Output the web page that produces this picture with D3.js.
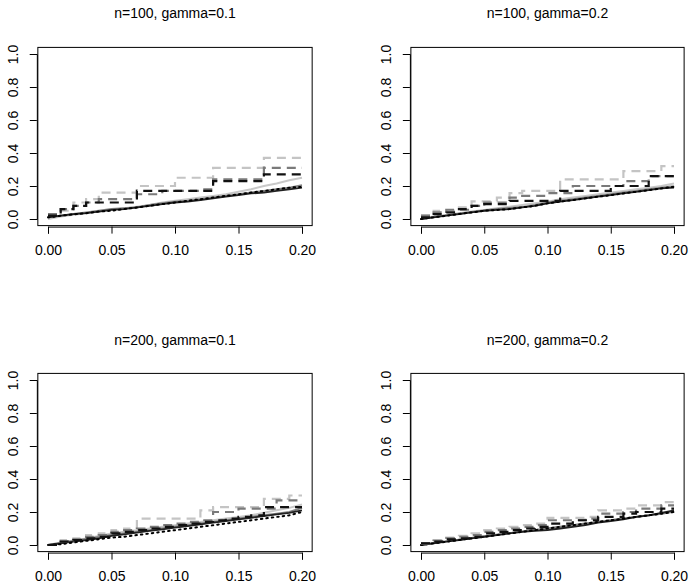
<!DOCTYPE html>
<html><head><meta charset="utf-8">
<script src="https://cdn.jsdelivr.net/npm/d3@7"></script>
<style>body{margin:0;background:#fff}svg{display:block}text{font-family:"Liberation Sans",Arial,sans-serif}</style>
</head><body><svg id="c" width="690" height="587"></svg>
<script>
const xs = [0,0.01,0.02,0.03,0.04,0.05,0.06,0.07,0.08,0.09,0.10,0.11,0.12,0.13,0.14,0.15,0.16,0.17,0.18,0.19,0.20];
const xTicks = [0,0.05,0.10,0.15,0.20];
const yTicks = [0,0.2,0.4,0.6,0.8,1.0];
const titles = ["n=100, gamma=0.1","n=100, gamma=0.2","n=200, gamma=0.1","n=200, gamma=0.2"];
const seriesNames = ["solidLight","solidDark","solidBlack","dotted","dashedLight","dashedDark","dashedBlack"];

const p1_solidBlack = [0.01,0.02,0.03,0.035,0.045,0.055,0.06,0.07,0.08,0.09,0.10,0.105,0.115,0.125,0.135,0.145,0.155,0.16,0.17,0.18,0.19];
const p1_solidDark = [0.01,0.02,0.03,0.04,0.05,0.06,0.065,0.07,0.085,0.095,0.105,0.11,0.12,0.13,0.14,0.15,0.16,0.17,0.18,0.19,0.205];
const p1_solidLight = [0.0,0.015,0.025,0.035,0.045,0.055,0.065,0.075,0.085,0.10,0.11,0.12,0.13,0.14,0.15,0.165,0.18,0.20,0.215,0.235,0.25];
const p1_dotted = [0.01,0.02,0.028,0.035,0.045,0.05,0.06,0.07,0.08,0.09,0.10,0.11,0.12,0.13,0.14,0.15,0.16,0.17,0.18,0.19,0.195];
const p1_dashedBlack = [0.02,0.06,0.08,0.10,0.10,0.10,0.10,0.17,0.17,0.17,0.17,0.17,0.17,0.23,0.23,0.23,0.23,0.27,0.27,0.27,0.27];
const p1_dashedDark = [0.03,0.06,0.08,0.10,0.12,0.12,0.12,0.15,0.15,0.17,0.17,0.17,0.18,0.24,0.24,0.24,0.24,0.31,0.31,0.31,0.31];
const p1_dashedLight = [0.03,0.05,0.10,0.12,0.16,0.16,0.16,0.20,0.20,0.20,0.25,0.25,0.25,0.31,0.31,0.31,0.31,0.37,0.37,0.37,0.37];

const p2_solidBlack = [0,0.01,0.02,0.03,0.04,0.05,0.055,0.06,0.07,0.08,0.095,0.105,0.115,0.125,0.135,0.145,0.155,0.165,0.175,0.185,0.19];
const p2_solidDark = [0,0.012,0.022,0.032,0.042,0.052,0.06,0.066,0.072,0.085,0.1,0.11,0.12,0.13,0.14,0.15,0.16,0.17,0.18,0.19,0.198];
const p2_solidLight = [0,0.015,0.025,0.035,0.045,0.055,0.065,0.075,0.085,0.095,0.105,0.12,0.13,0.14,0.15,0.16,0.17,0.18,0.19,0.2,0.215];
const p2_dotted = [0,0.01,0.02,0.03,0.04,0.05,0.055,0.06,0.07,0.08,0.095,0.105,0.115,0.125,0.135,0.145,0.155,0.165,0.175,0.185,0.195];
const p2_dashedBlack = [0.01,0.03,0.04,0.06,0.08,0.09,0.09,0.11,0.11,0.11,0.11,0.17,0.17,0.17,0.17,0.2,0.2,0.2,0.26,0.26,0.26];
const p2_dashedDark = [0.02,0.04,0.056,0.056,0.08,0.10,0.10,0.13,0.14,0.14,0.157,0.157,0.2,0.2,0.2,0.2,0.23,0.23,0.26,0.26,0.26];
const p2_dashedLight = [0.02,0.05,0.05,0.07,0.107,0.107,0.13,0.157,0.17,0.17,0.17,0.24,0.24,0.24,0.24,0.24,0.29,0.29,0.29,0.32,0.32];

const p3_solidBlack = [0,0.01,0.02,0.03,0.04,0.055,0.065,0.075,0.085,0.095,0.105,0.115,0.125,0.135,0.145,0.155,0.165,0.175,0.185,0.195,0.21];
const p3_solidDark = [0,0.012,0.024,0.036,0.048,0.06,0.07,0.08,0.09,0.10,0.11,0.12,0.13,0.14,0.15,0.16,0.17,0.18,0.19,0.2,0.225];
const p3_solidLight = [0,0.015,0.028,0.04,0.055,0.07,0.08,0.09,0.10,0.11,0.12,0.13,0.14,0.15,0.16,0.17,0.18,0.195,0.21,0.225,0.245];
const p3_dotted = [0,0.005,0.015,0.025,0.035,0.045,0.05,0.06,0.07,0.08,0.09,0.10,0.11,0.12,0.13,0.14,0.15,0.16,0.17,0.18,0.2];
const p3_dashedBlack = [0,0.02,0.03,0.04,0.05,0.07,0.08,0.09,0.10,0.11,0.12,0.13,0.14,0.15,0.16,0.17,0.18,0.23,0.23,0.23,0.23];
const p3_dashedDark = [0,0.02,0.035,0.05,0.06,0.08,0.09,0.10,0.11,0.12,0.13,0.14,0.15,0.2,0.2,0.22,0.22,0.22,0.27,0.27,0.27];
const p3_dashedLight = [0,0.03,0.04,0.06,0.07,0.09,0.1,0.16,0.16,0.16,0.16,0.16,0.21,0.23,0.23,0.23,0.23,0.28,0.28,0.30,0.30];

const p4_solidBlack = [0,0.01,0.02,0.03,0.04,0.05,0.06,0.07,0.08,0.085,0.09,0.10,0.11,0.12,0.135,0.145,0.155,0.17,0.18,0.195,0.21];
const p4_solidDark = [0,0.012,0.022,0.032,0.042,0.052,0.062,0.072,0.082,0.09,0.1,0.11,0.12,0.13,0.14,0.15,0.16,0.17,0.18,0.19,0.205];
const p4_solidLight = [0,0.012,0.022,0.032,0.042,0.052,0.062,0.072,0.082,0.092,0.1,0.11,0.12,0.13,0.14,0.15,0.16,0.17,0.18,0.19,0.2];
const p4_dotted = [0,0.01,0.02,0.03,0.04,0.05,0.06,0.07,0.08,0.09,0.1,0.11,0.12,0.13,0.14,0.15,0.16,0.17,0.18,0.19,0.2];
const p4_dashedBlack = [0.01,0.02,0.035,0.04,0.05,0.07,0.08,0.09,0.1,0.11,0.13,0.13,0.15,0.15,0.17,0.17,0.19,0.2,0.2,0.22,0.22];
const p4_dashedDark = [0.01,0.025,0.04,0.05,0.06,0.08,0.09,0.1,0.11,0.12,0.15,0.15,0.15,0.16,0.19,0.19,0.2,0.22,0.22,0.24,0.24];
const p4_dashedLight = [0.01,0.03,0.045,0.055,0.07,0.09,0.1,0.11,0.12,0.13,0.165,0.165,0.165,0.17,0.21,0.21,0.22,0.24,0.24,0.26,0.26];

const panelData = [
  {solidBlack:p1_solidBlack,solidDark:p1_solidDark,solidLight:p1_solidLight,dotted:p1_dotted,dashedBlack:p1_dashedBlack,dashedDark:p1_dashedDark,dashedLight:p1_dashedLight},
  {solidBlack:p2_solidBlack,solidDark:p2_solidDark,solidLight:p2_solidLight,dotted:p2_dotted,dashedBlack:p2_dashedBlack,dashedDark:p2_dashedDark,dashedLight:p2_dashedLight},
  {solidBlack:p3_solidBlack,solidDark:p3_solidDark,solidLight:p3_solidLight,dotted:p3_dotted,dashedBlack:p3_dashedBlack,dashedDark:p3_dashedDark,dashedLight:p3_dashedLight},
  {solidBlack:p4_solidBlack,solidDark:p4_solidDark,solidLight:p4_solidLight,dotted:p4_dotted,dashedBlack:p4_dashedBlack,dashedDark:p4_dashedDark,dashedLight:p4_dashedLight}
];

const styles = {
  solidLight:{color:"#c8c8c8",dash:null,w:2,step:false},
  solidDark:{color:"#808080",dash:null,w:2,step:false},
  solidBlack:{color:"#222",dash:null,w:1.8,step:false},
  dotted:{color:"#000",dash:"1.5,4",w:2,step:false},
  dashedLight:{color:"#c4c4c4",dash:"9,6",w:2.2,step:true},
  dashedDark:{color:"#7a7a7a",dash:"9,6",w:2.2,step:true},
  dashedBlack:{color:"#111",dash:"9,6",w:2.2,step:true}
};

const svg = d3.select("#c");
const colRanges = [[48,302],[421,674]];
const rowRanges = [[219,54],[545,380]];
const titleY = [18,345];

panelData.forEach((pd,i)=>{
  const r = Math.floor(i/2), c = i%2;
  const x = d3.scaleLinear().domain([0,0.2]).range(colRanges[c]);
  const y = d3.scaleLinear().domain([0,1]).range(rowRanges[r]);
  const g = svg.append("g");
  const x0 = x(-0.008), x1 = x(0.208), y0 = y(-0.04), y1 = y(1.04);
  const clipId = "clip"+i;
  g.append("clipPath").attr("id",clipId).append("rect").attr("x",x0).attr("y",y1).attr("width",x1-x0).attr("height",y0-y1);
  const lg = g.append("g").attr("clip-path","url(#"+clipId+")");
  seriesNames.forEach(name=>{
    const st = styles[name];
    const line = d3.line().x((d,j)=>x(xs[j])).y(d=>y(d)).curve(st.step?d3.curveStepAfter:d3.curveLinear);
    lg.append("path").attr("d",line(pd[name])).attr("fill","none")
      .attr("stroke",st.color).attr("stroke-width",st.w)
      .attr("stroke-dasharray",st.dash).attr("stroke-linecap",st.dash&&st.dash.startsWith("1.5")?"round":"butt");
  });
  g.append("rect").attr("x",x0).attr("y",y1).attr("width",x1-x0).attr("height",y0-y1)
    .attr("fill","none").attr("stroke","#000").attr("stroke-width",1);
  const xa = g.append("g").attr("transform",`translate(0,${y0+1})`)
    .call(d3.axisBottom(x).tickValues(xTicks).tickFormat(d3.format(".2f")).tickSize(7).tickPadding(11));
  const ya = g.append("g").attr("transform",`translate(${x0-1},0)`)
    .call(d3.axisLeft(y).tickValues(yTicks).tickFormat(d3.format(".1f")).tickSize(7).tickPadding(6));
  [xa,ya].forEach(a=>{a.selectAll("text").attr("font-size",14).attr("fill","#000").attr("font-family","Liberation Sans, Arial, sans-serif");
    a.selectAll("line,path").attr("stroke","#000");});
  ya.selectAll(".tick text").attr("transform","rotate(-90)").attr("x",0).attr("y",-19).attr("dy",0).attr("text-anchor","middle");
  g.append("text").attr("x",(x0+x1)/2).attr("y",titleY[r]).attr("text-anchor","middle")
    .attr("font-size",14).text(titles[i]);
});
</script></body></html>
